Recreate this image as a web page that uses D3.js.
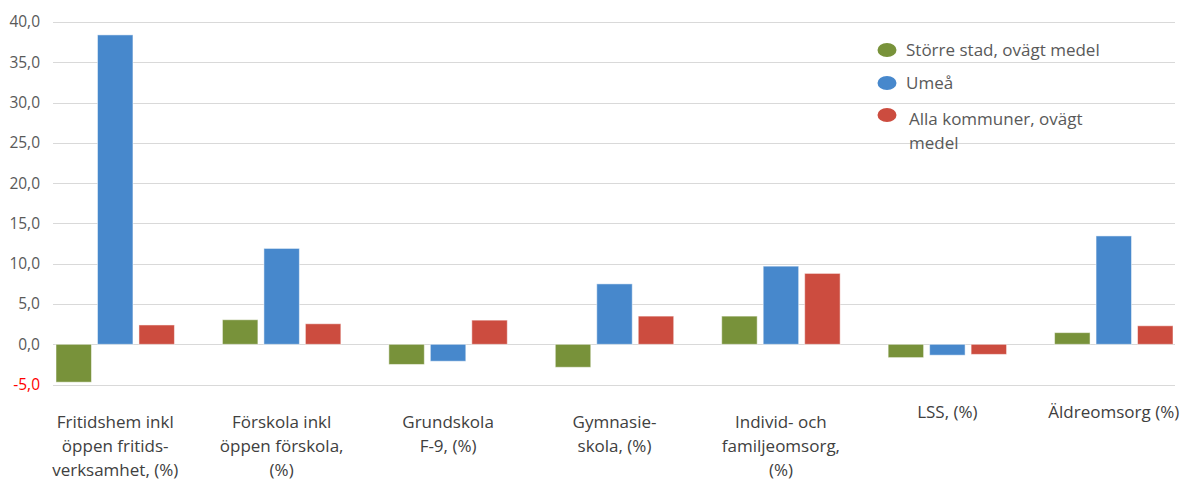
<!DOCTYPE html>
<html>
<head>
<meta charset="utf-8">
<script src="https://cdn.jsdelivr.net/npm/d3@7"></script>
<style>
  body { margin: 0; background: #fff; }
  svg text { font-family: "Open Sans", sans-serif; }
</style>
</head>
<body>
<svg id="chart"></svg>
<script>
const categories = [
    ["Fritidshem inkl", "öppen fritids-", "verksamhet, (%)"],
    ["Förskola inkl", "öppen förskola,", "(%)"],
    ["Grundskola", "F-9, (%)"],
    ["Gymnasie-", "skola, (%)"],
    ["Individ- och", "familjeomsorg,", "(%)"],
    ["LSS, (%)"],
    ["Äldreomsorg (%)"]
];
const seriesNames = ["Större stad, ovägt medel", "Umeå", "Alla kommuner, ovägt medel"];
const storreStad = [-4.7, 3.05, -2.5, -2.85, 3.5, -1.65, 1.45];
const umea = [38.4, 11.9, -2.1, 7.5, 9.7, -1.35, 13.45];
const allaKommuner = [2.4, 2.55, 3.0, 3.5, 8.8, -1.25, 2.3];
const yTicks = [-5, 0, 5, 10, 15, 20, 25, 30, 35, 40];
const colors = ["#78923a", "#4788cc", "#cc4c3f"];

function drawChart() {
    const width = 1180, height = 480;
    const svg = d3.select("#chart").attr("width", width).attr("height", height);

    const series = [storreStad, umea, allaKommuner];
    const keys = categories.map((c, i) => i);

    const y = d3.scaleLinear().domain([-5, 40]).range([384.6, 22]);
    const x0 = d3.scaleBand().domain(keys).range([32, 1197]);
    const x1 = d3.scaleBand().domain([0, 1, 2])
        .range([24, x0.bandwidth() - 24])
        .paddingInner(0.145);

    // gridlines
    svg.append("g")
        .selectAll("line")
        .data(yTicks)
        .enter()
        .append("line")
        .attr("x1", 53)
        .attr("x2", 1175)
        .attr("y1", d => Math.round(y(d)) + 0.5)
        .attr("y2", d => Math.round(y(d)) + 0.5)
        .attr("stroke", "#d9d9d9")
        .attr("stroke-width", 1);

    // y labels
    svg.append("g")
        .selectAll("text")
        .data(yTicks)
        .enter()
        .append("text")
        .attr("x", 40)
        .attr("y", d => y(d))
        .attr("dy", "0.35em")
        .attr("text-anchor", "end")
        .style("font-size", "15.5px")
        .attr("fill", d => d < 0 ? "#ff0000" : "#595959")
        .text(d => d3.format(".1f")(d).replace(".", ",").replace("−", "-"));

    // bars
    const groups = svg.append("g")
        .selectAll("g")
        .data(keys)
        .enter()
        .append("g")
        .attr("transform", d => `translate(${x0(d)},0)`);

    groups.selectAll("rect")
        .data(i => series.map((s, k) => ({ k, v: s[i] })))
        .enter()
        .append("rect")
        .attr("x", d => x1(d.k))
        .attr("width", x1.bandwidth())
        .attr("y", d => y(Math.max(0, d.v)))
        .attr("height", d => Math.abs(y(d.v) - y(0)))
        .attr("fill", d => colors[d.k])
        .attr("stroke", "#ffffff")
        .attr("stroke-opacity", 0.5)
        .attr("stroke-width", 1);

    // category labels
    const labels = svg.append("g")
        .selectAll("text")
        .data(keys)
        .enter()
        .append("text")
        .attr("x", d => x0(d) + x0.bandwidth() / 2)
        .attr("y", d => categories[d].length > 1 ? 428 : 418)
        .attr("text-anchor", "middle")
        .attr("fill", "#404040")
        .style("font-size", "17px");

    labels.selectAll("tspan")
        .data(d => categories[d])
        .enter()
        .append("tspan")
        .attr("x", function () { return d3.select(this.parentNode).attr("x"); })
        .attr("dy", (d, i) => i === 0 ? 0 : 24)
        .text(d => d);

    // legend
    const legendRows = [
        { lines: ["Större stad, ovägt medel"], my: 50, ty: 56 },
        { lines: ["Umeå"], my: 83, ty: 89 },
        { lines: ["Alla kommuner, ovägt", "medel"], my: 115, ty: 125 }
    ];
    const legend = svg.append("g");
    legendRows.forEach((r, i) => {
        legend.append("ellipse")
            .attr("cx", 887)
            .attr("cy", r.my)
            .attr("rx", 9.5)
            .attr("ry", 7)
            .attr("fill", colors[i]);
        const t = legend.append("text")
            .attr("x", i === 2 ? 909 : 906)
            .attr("y", r.ty)
            .attr("fill", "#595959")
            .style("font-size", "17px");
        t.selectAll("tspan")
            .data(r.lines)
            .enter()
            .append("tspan")
            .attr("x", i === 2 ? 909 : 906)
            .attr("dy", (d, j) => j === 0 ? 0 : 24)
            .text(d => d);
    });
}

document.addEventListener("DOMContentLoaded", drawChart);
</script>
</body>
</html>
